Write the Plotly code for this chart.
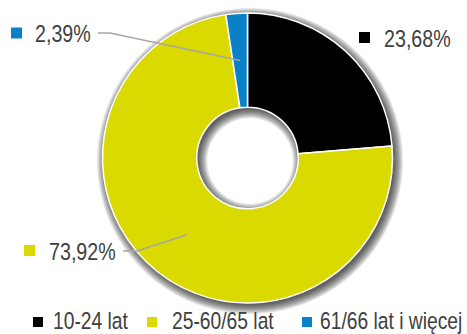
import math
import plotly.graph_objects as go

# Age groups and their shares (%)
categories = ["10-24 lat", "25-60/65 lat", "61/66 lat i więcej"]
shares = [23.68, 73.92, 2.39]
colors = ["#000000", "#DADA00", "#0A80C8"]

W, H = 467, 334
CX, CY, R = 247.5, 158.0, 145.0
HOLE = 0.35
FONT = "Liberation Sans, Arial, sans-serif"
TEXT_COLOR = "#404040"
NARROW = 0.82  # horizontal squeeze for a narrow-face look


def px(x):
    return x / W


def py(y):
    return 1 - y / H


fig = go.Figure(
    go.Pie(
        values=shares,
        labels=categories,
        marker=dict(colors=colors, line=dict(color="white", width=1.5)),
        hole=HOLE,
        sort=False,
        direction="clockwise",
        rotation=0,
        textinfo="none",
        hoverinfo="label+percent",
        showlegend=False,
        domain=dict(x=[px(CX - R), px(CX + R)], y=[py(CY + R), py(CY - R)]),
    )
)

shapes = []
annotations = []


def circle_path(cx, cy, r, n=120):
    pts = []
    for i in range(n):
        a = 2 * math.pi * i / n
        pts.append(f"{px(cx + r * math.cos(a)):.5f},{py(cy + r * math.sin(a)):.5f}")
    return "M" + "L".join(pts) + "Z"


# soft drop shadow behind the ring (stacked translucent annuli)
OX, OY = 2.5, 3.0
for k in range(1, 11):
    ro = R - 2 + k
    ri = R * HOLE + 2 - k
    shapes.append(dict(
        type="path", xref="paper", yref="paper", layer="below",
        path=circle_path(CX + OX, CY + OY, ro) + circle_path(CX + OX, CY + OY, ri),
        fillrule="evenodd", fillcolor="rgba(0,0,0,0.09)", line=dict(width=0),
    ))

# outside value labels: marker centre, text left edge / middle, leader start
label_spots = {
    0: dict(sq=(364.5, 37.5), tx=382, ty=38, lead=None),
    1: dict(sq=(29.5, 250.5), tx=47, ty=252, lead=(123, 137, 251)),
    2: dict(sq=(16.5, 33), tx=33, ty=33, lead=(98, 110, 33)),
}

total = sum(shares)
r_mid = (R + R * HOLE) / 2
cum = 0.0
for i, v in enumerate(shares):
    ang = (cum + v / 2) / total * 2 * math.pi
    cum += v
    spot = label_spots[i]
    sx, sy = spot["sq"]
    s = 5.5
    shapes.append(dict(type="rect", xref="paper", yref="paper",
                       x0=px(sx - s), x1=px(sx + s), y0=py(sy + s), y1=py(sy - s),
                       fillcolor=colors[i], line=dict(width=0)))
    annotations.append(dict(
        x=px(spot["tx"]), y=py(spot["ty"]), xref="paper", yref="paper",
        xanchor="left", yanchor="middle", align="left", showarrow=False,
        text=f"{v:.2f}".replace(".", ",") + "%",
        font=dict(family=FONT, size=24, color=TEXT_COLOR),
    ))
    if spot["lead"]:
        x0, x1, ly = spot["lead"]
        ex = CX + r_mid * math.sin(ang)
        ey = CY - r_mid * math.cos(ang)
        shapes.append(dict(
            type="path", xref="paper", yref="paper", layer="above",
            path=f"M{px(x0):.5f},{py(ly):.5f}L{px(x1):.5f},{py(ly):.5f}L{px(ex):.5f},{py(ey):.5f}",
            line=dict(color="#A6A6A6", width=1.5),
        ))

# legend row
legend_spots = [(38, 51), (152, 170), (307, 318)]
for i, name in enumerate(categories):
    sx, tx = legend_spots[i]
    s = 5
    shapes.append(dict(type="rect", xref="paper", yref="paper",
                       x0=px(sx - s), x1=px(sx + s), y0=py(322 + s), y1=py(322 - s),
                       fillcolor=colors[i], line=dict(width=0)))
    annotations.append(dict(
        x=px(tx), y=py(321), xref="paper", yref="paper",
        xanchor="left", yanchor="middle", align="left", showarrow=False, text=name,
        font=dict(family=FONT, size=23.5, color=TEXT_COLOR),
    ))

fig.update_layout(
    width=W, height=H,
    margin=dict(l=0, r=0, t=0, b=0),
    paper_bgcolor="white", plot_bgcolor="white",
    shapes=shapes, annotations=annotations,
)

# squeeze annotation text horizontally about its left edge,
# and trim each annotation's background box to the squeezed width
squeeze_js = """
(function () {
  var gd = document.getElementsByClassName('plotly-graph-div')[0];
  var s = %s;
  function squeeze() {
    gd.querySelectorAll('g.annotation').forEach(function (g) {
      var t = g.querySelector('text.annotation-text');
      if (!t || t.getAttribute('data-squeezed')) return;
      var bb = t.getBBox();
      t.setAttribute('transform',
        'matrix(' + s + ',0,0,1,' + (bb.x * (1 - s)).toFixed(3) + ',0)');
      t.setAttribute('data-squeezed', '1');
      var bg = g.querySelector('rect.bg');
      if (bg) {
        var bw = parseFloat(bg.getAttribute('width'));
        bg.setAttribute('width', Math.max(0, bw - bb.width * (1 - s)).toFixed(2));
      }
    });
  }
  squeeze();
  gd.on('plotly_afterplot', squeeze);
})();
""" % NARROW

fig.write_html("out.html", post_script=squeeze_js)
